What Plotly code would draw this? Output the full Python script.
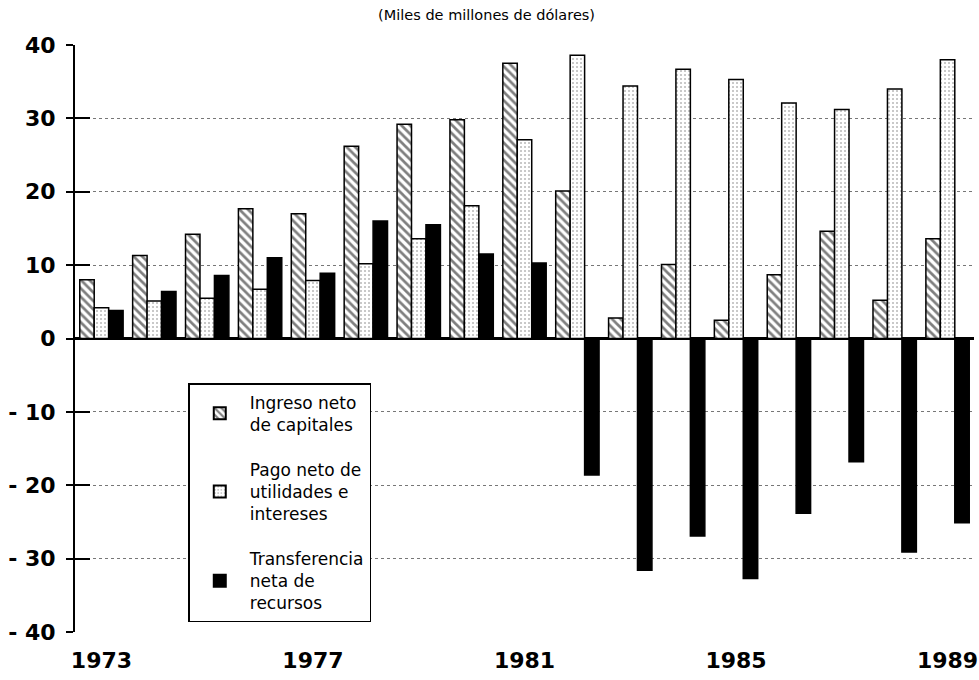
import plotly.graph_objects as go

years = list(range(1973, 1990))
ingreso = [8.0, 11.3, 14.2, 17.7, 17.0, 26.2, 29.2, 29.8, 37.5, 20.1, 2.8, 10.1, 2.5, 8.7, 14.6, 5.2, 13.6]
pago = [4.2, 5.1, 5.5, 6.7, 7.9, 10.2, 13.6, 18.1, 27.1, 38.6, 34.4, 36.7, 35.3, 32.1, 31.2, 34.0, 38.0]
transfer = [3.8, 6.4, 8.6, 11.0, 8.9, 16.0, 15.5, 11.5, 10.3, -18.6, -31.6, -26.9, -32.7, -23.8, -16.8, -29.1, -25.1]
tick_years = [1973, 1977, 1981, 1985, 1989]
y_ticks = [-40, -30, -20, -10, 0, 10, 20, 30, 40]
y_labels = [("- " + str(-v)) if v < 0 else str(v) for v in y_ticks]

bold_font = dict(size=22, family="DejaVu Sans, Verdana, sans-serif", weight="bold", color="black")

fig = go.Figure()
fig.add_trace(go.Bar(
    x=years, y=ingreso, name="Ingreso neto<br>de capitales", legendgroup="a",
    marker=dict(color="white", line=dict(color="black", width=1.5),
                pattern=dict(shape="\\", fgcolor="black", bgcolor="white", size=6, solidity=0.45)),
))
fig.add_trace(go.Bar(
    x=years, y=pago, name="Pago neto de<br>utilidades e<br>intereses", legendgroup="b",
    marker=dict(color="white", line=dict(color="black", width=1.5),
                pattern=dict(shape=".", fgcolor="#777", bgcolor="white", size=4, solidity=0.22)),
))
fig.add_trace(go.Bar(
    x=years, y=transfer, name="Transferencia<br>neta de<br>recursos", legendgroup="c",
    marker=dict(color="black", line=dict(color="black", width=1.5)),
))
fig.add_trace(go.Scatter(x=[None], y=[None], yaxis="y2", showlegend=False, hoverinfo="skip"))

fig.update_layout(
    width=979, height=680,
    barmode="group", bargap=0.18, bargroupgap=0.0,
    plot_bgcolor="white", paper_bgcolor="white",
    margin=dict(l=75, r=5, t=45, b=48, autoexpand=False),
    font=dict(family="DejaVu Sans, Verdana, sans-serif", color="black"),
    title=dict(text="(Miles de millones de dólares)", x=0.497, xanchor="center",
               y=0.978, yanchor="middle", font=dict(size=14.5, color="black")),
    xaxis=dict(
        tickmode="array", tickvals=tick_years, ticktext=[str(t) for t in tick_years],
        range=[1972.5, 1989.5], showgrid=False, zeroline=False, showline=False,
        ticks="", tickfont=bold_font, ticklabelstandoff=13, automargin=False,
    ),
    yaxis=dict(
        range=[-40, 40], tickvals=y_ticks, ticktext=y_labels,
        showgrid=True, gridcolor="#777", gridwidth=1, griddash="dot",
        zeroline=True, zerolinecolor="black", zerolinewidth=2.5,
        showline=True, linecolor="black", linewidth=2,
        ticks="outside", ticklen=7, tickwidth=2, tickcolor="black",
        tickfont=bold_font, automargin=False, ticklabelstandoff=6,
    ),
    yaxis2=dict(
        range=[-40, 40], overlaying="y", side="left", tickvals=y_ticks,
        showticklabels=False, showgrid=False, zeroline=False, showline=False,
        ticks="inside", ticklen=15, tickwidth=2, tickcolor="black", automargin=False,
    ),
    legend=dict(
        x=0.126, y=0.424, xanchor="left", yanchor="top",
        bgcolor="white", bordercolor="black", borderwidth=1.5,
        font=dict(size=17, family="DejaVu Sans, Verdana, sans-serif"),
        tracegroupgap=20, itemsizing="constant", itemwidth=50,
    ),
    showlegend=True,
)

fig.write_html("out.html", post_script="document.body.style.margin='0px';",
               config={"displayModeBar": False})
